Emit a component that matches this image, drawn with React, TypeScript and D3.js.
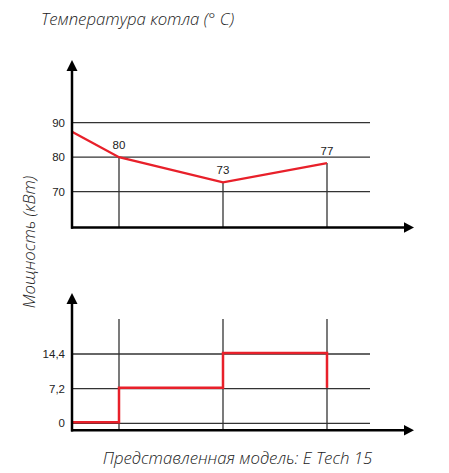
import React from "react";
import * as d3 from "d3";

const stages = [0, 1, 2, 3];
const tempValues = [87.4, 80, 72.7, 78.3];
const tempLabels = ["", "80", "73", "77"];
const tempTicks = [70, 80, 90];
const powerValues = [0, 7.2, 14.4, 7.2];
const powerTicks = [0, 7.2, 14.4];
const powerTickLabels = ["0", "7,2", "14,4"];

const W = 449;
const H = 473;

export default function App() {
  const xs = d3.scaleOrdinal<number, number>().domain(stages).range([72, 119, 223, 327]);
  const yTop = d3.scaleLinear().domain([70, 90]).range([191.7, 122.7]);
  const yBot = d3.scaleLinear().domain([0, 14.4]).range([423.3, 354]);
  const gridX0 = 72;
  const gridX1 = 370;

  const tempLine = d3
    .line<number>()
    .x((_, i) => xs(stages[i]))
    .y((d) => yTop(d))(tempValues);

  const stepData: [number, number][] = [
    [xs(0), yBot(powerValues[0])],
    [xs(1), yBot(powerValues[0])],
    [xs(1), yBot(powerValues[1])],
    [xs(2), yBot(powerValues[1])],
    [xs(2), yBot(powerValues[2])],
    [xs(3), yBot(powerValues[2])],
    [xs(3), yBot(powerValues[3])],
  ];
  const stepLine = d3.line()(stepData);

  const gridColor = "#333";
  const red = "#e8202a";
  const tickFont = "Liberation Sans, Arial, sans-serif";
  const labelFont = "'Open Sans', sans-serif";
  const labelSize = 16.8;

  const axisTopY = 227.5;
  const axisBotY = 430.3;

  return (
    <svg width={W} height={H} style={{ position: "absolute", left: 0, top: 0 }}>
      <rect width={W} height={H} fill="#fff" />
      <text x={41} y={25} fontFamily={labelFont} fontStyle="italic" fontWeight={300} fontSize={labelSize} fill="#222">
        Температура котла (° C)
      </text>

      {/* Top chart */}
      {tempTicks.map((t) => (
        <g key={"tt" + t}>
          <line x1={gridX0} x2={gridX1} y1={yTop(t)} y2={yTop(t)} stroke={gridColor} strokeWidth={1.3} />
          <text x={65} y={yTop(t) + 4} textAnchor="end" fontFamily={tickFont} fontSize={11.5} fill="#222">
            {t}
          </text>
        </g>
      ))}
      {stages.slice(1).map((s, i) => (
        <line key={"tv" + s} x1={xs(s)} x2={xs(s)} y1={yTop(tempValues[i + 1])} y2={axisTopY} stroke={gridColor} strokeWidth={1.3} />
      ))}
      <path d={tempLine || ""} fill="none" stroke={red} strokeWidth={2.3} />
      {stages.slice(1).map((s, i) => (
        <text key={"tl" + s} x={xs(s)} y={yTop(tempValues[i + 1]) - 8} textAnchor="middle" fontFamily={tickFont} fontSize={11.5} fill="#222">
          {tempLabels[i + 1]}
        </text>
      ))}
      <line x1={72} x2={72} y1={68} y2={axisTopY + 1.2} stroke="#000" strokeWidth={2.5} />
      <path d="M66.5,71 L72,60 L77.5,71 Z" fill="#000" />
      <line x1={71} x2={406} y1={axisTopY} y2={axisTopY} stroke="#000" strokeWidth={2.5} />
      <path d={`M404,${axisTopY - 5.3} L414,${axisTopY} L404,${axisTopY + 5.3} Z`} fill="#000" />

      {/* Bottom chart */}
      {powerTicks.map((t, i) => (
        <g key={"bt" + t}>
          <line x1={gridX0} x2={gridX1} y1={yBot(t)} y2={yBot(t)} stroke={gridColor} strokeWidth={1.3} />
          <text x={65} y={yBot(t) + 4} textAnchor="end" fontFamily={tickFont} fontSize={11.5} fill="#222">
            {powerTickLabels[i]}
          </text>
        </g>
      ))}
      {stages.slice(1).map((s) => (
        <line key={"bv" + s} x1={xs(s)} x2={xs(s)} y1={319} y2={axisBotY} stroke={gridColor} strokeWidth={1.3} />
      ))}
      <path d={stepLine || ""} fill="none" stroke={red} strokeWidth={2.5} transform="translate(0,-1)" />
      <line x1={72} x2={72} y1={301} y2={axisBotY + 1.2} stroke="#000" strokeWidth={2.5} />
      <path d="M66.5,304 L72,293 L77.5,304 Z" fill="#000" />
      <line x1={71} x2={406} y1={axisBotY} y2={axisBotY} stroke="#000" strokeWidth={2.5} />
      <path d={`M404,${axisBotY - 5.3} L414,${axisBotY} L404,${axisBotY + 5.3} Z`} fill="#000" />

      <text
        transform="translate(35,242) rotate(-90)"
        textAnchor="middle"
        fontFamily={labelFont}
        fontStyle="italic"
        fontWeight={300}
        fontSize={labelSize}
        fill="#222"
      >
        Мощность (кВт)
      </text>
      <text x={237.5} y={464} textAnchor="middle" fontFamily={labelFont} fontStyle="italic" fontWeight={300} fontSize={labelSize} fill="#222">
        Представленная модель: E Tech 15
      </text>
    </svg>
  );
}
